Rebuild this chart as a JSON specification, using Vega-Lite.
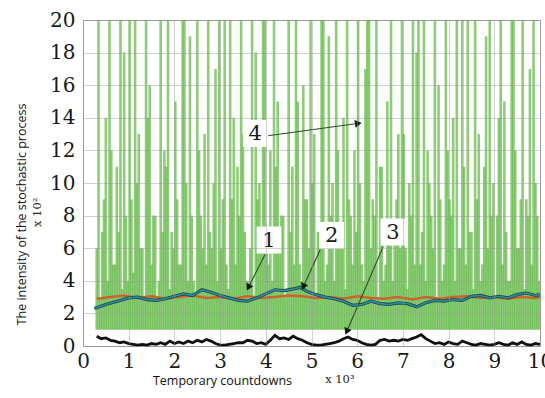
{
"$schema": "https://vega.github.io/schema/vega-lite/v6.json",
"width": 457, "height": 326,
"autosize": "none",
"padding": {"left": 83, "top": 20, "right": 5, "bottom": 52},
"background": "white",
"config": {"view": {"stroke": "#9a9a9a", "strokeWidth": 1}},
"datasets": {
"green": [
{"x":0.30,"y":6},{"x":0.34,"y":20},{"x":0.38,"y":3},{"x":0.42,"y":7},{"x":0.46,"y":9},{"x":0.50,"y":14},{"x":0.54,"y":4},{"x":0.58,"y":20},{"x":0.62,"y":12},{"x":0.66,"y":5},{"x":0.70,"y":5},{"x":0.74,"y":11},{"x":0.78,"y":7},{"x":0.82,"y":20},{"x":0.86,"y":3.5},{"x":0.90,"y":18},{"x":0.94,"y":8},{"x":0.98,"y":4},{"x":1.02,"y":20},{"x":1.06,"y":9},{"x":1.10,"y":4.5},{"x":1.14,"y":20},{"x":1.18,"y":10},{"x":1.22,"y":13},{"x":1.26,"y":6},{"x":1.30,"y":6},{"x":1.34,"y":3},{"x":1.38,"y":20},{"x":1.42,"y":14},{"x":1.46,"y":16},{"x":1.50,"y":5},{"x":1.54,"y":8},{"x":1.58,"y":8},{"x":1.62,"y":3},{"x":1.66,"y":4},{"x":1.70,"y":20},{"x":1.74,"y":7},{"x":1.78,"y":12},{"x":1.82,"y":11},{"x":1.86,"y":20},{"x":1.90,"y":3.5},{"x":1.94,"y":7},{"x":1.98,"y":6},{"x":2.02,"y":15},{"x":2.06,"y":9},{"x":2.10,"y":5},{"x":2.14,"y":5},{"x":2.18,"y":20},{"x":2.22,"y":20},{"x":2.26,"y":10},{"x":2.30,"y":4},{"x":2.34,"y":19},{"x":2.38,"y":8},{"x":2.42,"y":4},{"x":2.46,"y":3},{"x":2.50,"y":20},{"x":2.54,"y":12},{"x":2.58,"y":8},{"x":2.62,"y":6},{"x":2.66,"y":13},{"x":2.70,"y":5},{"x":2.74,"y":20},{"x":2.78,"y":7},{"x":2.82,"y":6},{"x":2.86,"y":10},{"x":2.90,"y":17},{"x":2.94,"y":4},{"x":2.98,"y":20},{"x":3.02,"y":6},{"x":3.06,"y":9},{"x":3.10,"y":20},{"x":3.14,"y":5},{"x":3.18,"y":3.5},{"x":3.22,"y":20},{"x":3.26,"y":9},{"x":3.30,"y":14},{"x":3.34,"y":5},{"x":3.38,"y":11},{"x":3.42,"y":8},{"x":3.46,"y":20},{"x":3.50,"y":13},{"x":3.54,"y":7},{"x":3.58,"y":4},{"x":3.62,"y":4},{"x":3.66,"y":6},{"x":3.70,"y":20},{"x":3.74,"y":3},{"x":3.78,"y":18},{"x":3.82,"y":9},{"x":3.86,"y":10},{"x":3.90,"y":7},{"x":3.94,"y":20},{"x":3.98,"y":20},{"x":4.02,"y":6},{"x":4.06,"y":5},{"x":4.10,"y":12},{"x":4.14,"y":4},{"x":4.18,"y":20},{"x":4.22,"y":11},{"x":4.26,"y":15},{"x":4.30,"y":6},{"x":4.34,"y":8},{"x":4.38,"y":8},{"x":4.42,"y":3},{"x":4.46,"y":3.5},{"x":4.50,"y":20},{"x":4.54,"y":7},{"x":4.58,"y":11},{"x":4.62,"y":5},{"x":4.66,"y":20},{"x":4.70,"y":15},{"x":4.74,"y":5},{"x":4.78,"y":4},{"x":4.82,"y":16},{"x":4.86,"y":9},{"x":4.90,"y":9},{"x":4.94,"y":6},{"x":4.98,"y":20},{"x":5.02,"y":10},{"x":5.06,"y":13},{"x":5.10,"y":3},{"x":5.14,"y":7},{"x":5.18,"y":7},{"x":5.22,"y":20},{"x":5.26,"y":20},{"x":5.30,"y":4},{"x":5.34,"y":5},{"x":5.38,"y":19},{"x":5.42,"y":8},{"x":5.46,"y":10},{"x":5.50,"y":4},{"x":5.54,"y":20},{"x":5.58,"y":12},{"x":5.62,"y":6},{"x":5.66,"y":6},{"x":5.70,"y":14},{"x":5.74,"y":3.5},{"x":5.78,"y":20},{"x":5.82,"y":9},{"x":5.86,"y":8},{"x":5.90,"y":5},{"x":5.94,"y":12},{"x":5.98,"y":7},{"x":6.02,"y":20},{"x":6.06,"y":10},{"x":6.10,"y":5},{"x":6.14,"y":4},{"x":6.18,"y":17},{"x":6.22,"y":20},{"x":6.26,"y":20},{"x":6.30,"y":6},{"x":6.34,"y":9},{"x":6.38,"y":8},{"x":6.42,"y":20},{"x":6.46,"y":3},{"x":6.50,"y":11},{"x":6.54,"y":11},{"x":6.58,"y":4},{"x":6.62,"y":5},{"x":6.66,"y":15},{"x":6.70,"y":7},{"x":6.74,"y":20},{"x":6.78,"y":4},{"x":6.82,"y":7},{"x":6.86,"y":9},{"x":6.90,"y":13},{"x":6.94,"y":6},{"x":6.98,"y":20},{"x":7.02,"y":13},{"x":7.06,"y":6},{"x":7.10,"y":3.5},{"x":7.14,"y":10},{"x":7.18,"y":8},{"x":7.22,"y":20},{"x":7.26,"y":5},{"x":7.30,"y":18},{"x":7.34,"y":20},{"x":7.38,"y":5},{"x":7.42,"y":7},{"x":7.46,"y":20},{"x":7.50,"y":4},{"x":7.54,"y":12},{"x":7.58,"y":10},{"x":7.62,"y":8},{"x":7.66,"y":6},{"x":7.70,"y":20},{"x":7.74,"y":3},{"x":7.78,"y":16},{"x":7.82,"y":9},{"x":7.86,"y":4},{"x":7.90,"y":5},{"x":7.94,"y":20},{"x":7.98,"y":12},{"x":8.02,"y":9},{"x":8.06,"y":8},{"x":8.10,"y":14},{"x":8.14,"y":4},{"x":8.18,"y":20},{"x":8.22,"y":6},{"x":8.26,"y":6},{"x":8.30,"y":20},{"x":8.34,"y":11},{"x":8.38,"y":5},{"x":8.42,"y":20},{"x":8.46,"y":7},{"x":8.50,"y":7},{"x":8.54,"y":3.5},{"x":8.58,"y":20},{"x":8.62,"y":9},{"x":8.66,"y":13},{"x":8.70,"y":4},{"x":8.74,"y":5},{"x":8.78,"y":11},{"x":8.82,"y":19},{"x":8.86,"y":6},{"x":8.90,"y":20},{"x":8.94,"y":8},{"x":8.98,"y":10},{"x":9.02,"y":3},{"x":9.06,"y":8},{"x":9.10,"y":14},{"x":9.14,"y":20},{"x":9.18,"y":5},{"x":9.22,"y":15},{"x":9.26,"y":7},{"x":9.30,"y":4},{"x":9.34,"y":4},{"x":9.38,"y":20},{"x":9.42,"y":20},{"x":9.46,"y":12},{"x":9.50,"y":6},{"x":9.54,"y":6},{"x":9.58,"y":9},{"x":9.62,"y":20},{"x":9.66,"y":3.5},{"x":9.70,"y":9},{"x":9.74,"y":8},{"x":9.78,"y":17},{"x":9.82,"y":5},{"x":9.86,"y":20},{"x":9.90,"y":10},{"x":9.94,"y":8},{"x":9.98,"y":4}
],
"black": [
{"x":0.3,"y":0.6},{"x":0.4,"y":0.45},{"x":0.5,"y":0.5},{"x":0.6,"y":0.35},{"x":0.7,"y":0.3},{"x":0.8,"y":0.2},{"x":0.9,"y":0.25},{"x":1.0,"y":0.15},{"x":1.1,"y":0.1},{"x":1.2,"y":0.05},{"x":1.3,"y":0.1},{"x":1.4,"y":0.05},{"x":1.5,"y":0.15},{"x":1.6,"y":0.1},{"x":1.7,"y":0.2},{"x":1.8,"y":0.1},{"x":1.9,"y":0.3},{"x":2.0,"y":0.15},{"x":2.1,"y":0.25},{"x":2.2,"y":0.15},{"x":2.3,"y":0.3},{"x":2.4,"y":0.2},{"x":2.5,"y":0.35},{"x":2.6,"y":0.25},{"x":2.7,"y":0.4},{"x":2.8,"y":0.3},{"x":2.9,"y":0.15},{"x":3.0,"y":0.05},{"x":3.1,"y":0.05},{"x":3.2,"y":0.1},{"x":3.3,"y":0.15},{"x":3.4,"y":0.2},{"x":3.5,"y":0.2},{"x":3.6,"y":0.35},{"x":3.7,"y":0.3},{"x":3.8,"y":0.15},{"x":3.9,"y":0.2},{"x":4.0,"y":0.1},{"x":4.1,"y":0.35},{"x":4.2,"y":0.65},{"x":4.3,"y":0.45},{"x":4.4,"y":0.5},{"x":4.5,"y":0.4},{"x":4.6,"y":0.6},{"x":4.7,"y":0.45},{"x":4.8,"y":0.35},{"x":4.9,"y":0.2},{"x":5.0,"y":0.1},{"x":5.1,"y":0.05},{"x":5.2,"y":0.05},{"x":5.3,"y":0.1},{"x":5.4,"y":0.15},{"x":5.5,"y":0.2},{"x":5.6,"y":0.3},{"x":5.7,"y":0.45},{"x":5.8,"y":0.55},{"x":5.9,"y":0.4},{"x":6.0,"y":0.35},{"x":6.1,"y":0.2},{"x":6.2,"y":0.1},{"x":6.3,"y":0.05},{"x":6.4,"y":0.1},{"x":6.5,"y":0.35},{"x":6.6,"y":0.4},{"x":6.7,"y":0.3},{"x":6.8,"y":0.35},{"x":6.9,"y":0.3},{"x":7.0,"y":0.4},{"x":7.1,"y":0.35},{"x":7.2,"y":0.45},{"x":7.3,"y":0.55},{"x":7.4,"y":0.7},{"x":7.5,"y":0.45},{"x":7.6,"y":0.3},{"x":7.7,"y":0.15},{"x":7.8,"y":0.2},{"x":7.9,"y":0.1},{"x":8.0,"y":0.25},{"x":8.1,"y":0.15},{"x":8.2,"y":0.1},{"x":8.3,"y":0.3},{"x":8.4,"y":0.2},{"x":8.5,"y":0.1},{"x":8.6,"y":0.05},{"x":8.7,"y":0.15},{"x":8.8,"y":0.1},{"x":8.9,"y":0.05},{"x":9.0,"y":0.1},{"x":9.1,"y":0.2},{"x":9.2,"y":0.1},{"x":9.3,"y":0.05},{"x":9.4,"y":0.2},{"x":9.5,"y":0.1},{"x":9.6,"y":0.25},{"x":9.7,"y":0.1},{"x":9.8,"y":0.05},{"x":9.9,"y":0.15},{"x":10.0,"y":0.1}
],
"orange": [
{"x":0.3,"y":2.9},{"x":0.6,"y":3.0},{"x":0.9,"y":3.1},{"x":1.2,"y":2.95},{"x":1.5,"y":3.05},{"x":1.8,"y":2.9},{"x":2.1,"y":3.0},{"x":2.4,"y":3.1},{"x":2.7,"y":2.95},{"x":3.0,"y":3.0},{"x":3.3,"y":2.9},{"x":3.6,"y":3.05},{"x":3.9,"y":2.95},{"x":4.2,"y":3.0},{"x":4.5,"y":3.1},{"x":4.8,"y":3.05},{"x":5.1,"y":2.95},{"x":5.4,"y":3.0},{"x":5.7,"y":2.9},{"x":6.0,"y":3.05},{"x":6.3,"y":2.95},{"x":6.6,"y":2.9},{"x":6.9,"y":3.0},{"x":7.2,"y":2.85},{"x":7.5,"y":3.0},{"x":7.8,"y":2.9},{"x":8.1,"y":3.0},{"x":8.4,"y":3.05},{"x":8.7,"y":2.95},{"x":9.0,"y":3.0},{"x":9.3,"y":2.9},{"x":9.6,"y":3.0},{"x":9.9,"y":2.95},{"x":10.0,"y":3.0}
],
"blue": [
{"x":0.25,"y":2.3},{"x":0.5,"y":2.55},{"x":0.75,"y":2.75},{"x":1.0,"y":2.95},{"x":1.2,"y":3.0},{"x":1.4,"y":2.85},{"x":1.6,"y":2.8},{"x":1.8,"y":2.9},{"x":2.0,"y":3.05},{"x":2.2,"y":3.2},{"x":2.4,"y":3.1},{"x":2.6,"y":3.45},{"x":2.8,"y":3.3},{"x":3.0,"y":3.1},{"x":3.2,"y":2.95},{"x":3.4,"y":2.8},{"x":3.6,"y":2.75},{"x":3.8,"y":2.95},{"x":4.0,"y":3.2},{"x":4.2,"y":3.45},{"x":4.4,"y":3.4},{"x":4.6,"y":3.5},{"x":4.75,"y":3.6},{"x":4.9,"y":3.35},{"x":5.1,"y":3.15},{"x":5.3,"y":3.0},{"x":5.5,"y":2.9},{"x":5.7,"y":2.75},{"x":5.9,"y":2.5},{"x":6.1,"y":2.55},{"x":6.3,"y":2.75},{"x":6.5,"y":2.6},{"x":6.7,"y":2.55},{"x":6.9,"y":2.65},{"x":7.1,"y":2.6},{"x":7.3,"y":2.4},{"x":7.5,"y":2.65},{"x":7.7,"y":2.8},{"x":7.9,"y":2.75},{"x":8.1,"y":2.85},{"x":8.3,"y":2.8},{"x":8.5,"y":3.05},{"x":8.7,"y":3.1},{"x":8.9,"y":2.95},{"x":9.1,"y":3.05},{"x":9.3,"y":2.95},{"x":9.5,"y":3.15},{"x":9.7,"y":3.25},{"x":9.9,"y":3.1},{"x":10.0,"y":3.15}
],
"arrows": [
{"x":4.05,"y":12.9,"x2":6.0,"y2":13.65,"dir":82},
{"x":3.98,"y":5.6,"x2":3.63,"y2":3.65,"dir":207},
{"x":5.19,"y":5.9,"x2":4.83,"y2":3.7,"dir":204},
{"x":6.57,"y":6.1,"x2":5.78,"y2":0.95,"dir":203}
],
"boxes": [
{"lab":"4","x":3.77,"y":13.04},
{"lab":"1","x":4.07,"y":6.5},
{"lab":"2","x":5.44,"y":6.78},
{"lab":"3","x":6.78,"y":6.99}
],
"notes": [
{"t":"x 10²","x":-0.98,"y":8.2,"a":270},
{"t":"x 10³","x":5.62,"y":-2.09,"a":0}
]
},
"encoding": {
"x": {"field":"x","type":"quantitative","scale":{"domain":[0,10],"nice":false,"zero":false},
 "axis":{"values":[0,1,2,3,4,5,6,7,8,9,10],"grid":true,"gridColor":"#9a9a9a","gridOpacity":0.45,"gridWidth":1,"ticks":false,"domain":false,"zindex":1,
  "labelFont":"DejaVu Serif","labelFontSize":20,"labelColor":"#1a1a1a","labelPadding":5,"labelFlush":false,"labelOverlap":false,
  "title":"Temporary countdowns","titleFont":"Open Sans","titleFontSize":12.5,"titleFontWeight":"normal","titleColor":"#111",
  "titleX":139,"titleY":34,"titleBaseline":"middle","titleAnchor":"middle","titleAlign":"center"}},
"y": {"field":"y","type":"quantitative","scale":{"domain":[0,20],"nice":false},
 "axis":{"values":[0,2,4,6,8,10,12,14,16,18,20],"grid":true,"gridColor":"#9a9a9a","gridOpacity":0.45,"gridWidth":1,"ticks":false,"domain":false,"zindex":1,
  "labelFont":"DejaVu Serif","labelFontSize":20,"labelColor":"#1a1a1a","labelPadding":8,"labelFlush":false,"labelOverlap":false,
  "title":"The intensity of the stochastic process","titleFont":"Open Sans","titleFontSize":12.5,"titleFontWeight":"normal","titleColor":"#111",
  "titleX":-62,"titleY":194,"titleBaseline":"middle","titleAlign":"center","titleAngle":270}}
},
"layer": [
{"data":{"name":"green"},"mark":{"type":"rule","stroke":"#62b846","strokeWidth":2.6,"opacity":0.72,"clip":true},"encoding":{"y2":{"datum":1}}},
{"data":{"name":"orange"},"mark":{"type":"line","stroke":"#c8652c","strokeWidth":2.5},"encoding":{}},
{"data":{"name":"blue"},"mark":{"type":"line","stroke":"#1d4650","strokeWidth":3.2},"encoding":{}},
{"data":{"name":"blue"},"mark":{"type":"line","stroke":"#2f8d9a","strokeWidth":1.6},"encoding":{}},
{"data":{"name":"black"},"mark":{"type":"line","stroke":"#111111","strokeWidth":2.8},"encoding":{}},
{"data":{"name":"arrows"},"mark":{"type":"rule","stroke":"#2d4a2d","strokeWidth":1.1},"encoding":{"x2":{"field":"x2"},"y2":{"field":"y2"}}},
{"data":{"name":"arrows"},"mark":{"type":"point","shape":"triangle","filled":true,"fill":"#0d1a0d","opacity":1,"size":60},
 "encoding":{"x":{"field":"x2","type":"quantitative"},"y":{"field":"y2","type":"quantitative"},"angle":{"field":"dir","type":"quantitative","scale":null}}},
{"data":{"name":"boxes"},"mark":{"type":"point","shape":"M-0.92,-1H0.92V1H-0.92Z","filled":true,"fill":"white","opacity":1,"size":729,"strokeWidth":0},"encoding":{}},
{"data":{"name":"boxes"},"mark":{"type":"text","font":"DejaVu Serif","fontSize":21,"color":"#1a1a1a","baseline":"middle","align":"center","dy":1},"encoding":{"text":{"field":"lab"}}},
{"data":{"name":"notes"},"mark":{"type":"text","font":"DejaVu Serif","fontSize":11.5,"color":"#222","baseline":"middle","align":"center","clip":false},
 "encoding":{"text":{"field":"t"},"angle":{"field":"a","type":"quantitative","scale":null}}}
]
}
